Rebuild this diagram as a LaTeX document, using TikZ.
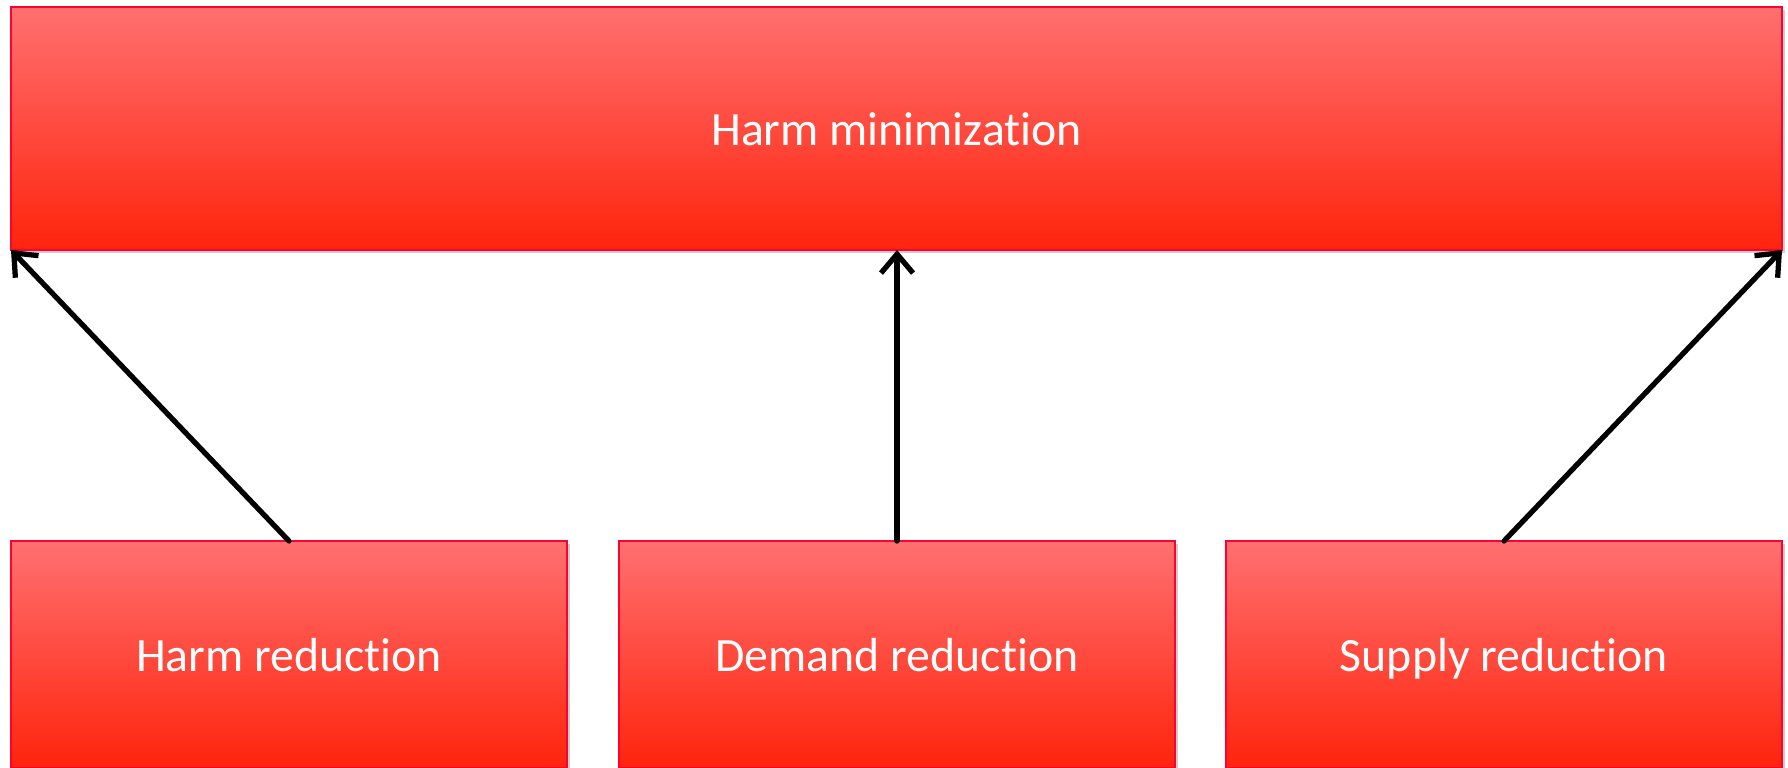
\documentclass[tikz,border=0pt]{standalone}
\usepackage{fontspec}
\setmainfont{Carlito}[Ligatures=NoCommon]
\usetikzlibrary{arrows.meta,positioning,shadows}
\definecolor{boxtop}{RGB}{255,112,112}
\definecolor{boxbot}{RGB}{255,36,12}
\definecolor{boxline}{RGB}{255,0,48}
\tikzset{
  level/.style={rectangle, draw=boxline, line width=0.75pt,
                top color=boxtop, bottom color=boxbot,
                drop shadow={shadow xshift=0.25mm, shadow yshift=-0.3mm,
                             opacity=0.2, fill=black},
                inner sep=0pt, outer sep=0pt, align=center,
                text height=0.96em, text depth=0pt,
                text=white, font=\fontsize{13.6}{16}\selectfont},
  arrow/.style={-{Straight Barb[length=1.9mm,width=3.2mm]}, line width=1.5pt,
                line cap=round, draw=black}
}
\begin{document}
\begin{tikzpicture}
\useasboundingbox (0,0) rectangle (17.88,7.67);
\node[level, minimum width=17.71cm, minimum height=2.43cm] (minim) at (8.965,6.385) {Harm minimization};
\node[level, minimum width=5.56cm, minimum height=2.27cm] (demand) at (8.97,1.125) {Demand reduction};
\node[level, minimum width=5.56cm, minimum height=2.27cm, left=0.52cm of demand] (harm) {Harm reduction};
\node[level, minimum width=5.56cm, minimum height=2.27cm, right=0.51cm of demand] (supply) {Supply reduction};
\draw[arrow] (harm.north) -- (minim.south west);
\draw[arrow] (demand.north) -- (demand.north |- minim.south);
\draw[arrow] (supply.north) -- (minim.south east);
\end{tikzpicture}
\end{document}
